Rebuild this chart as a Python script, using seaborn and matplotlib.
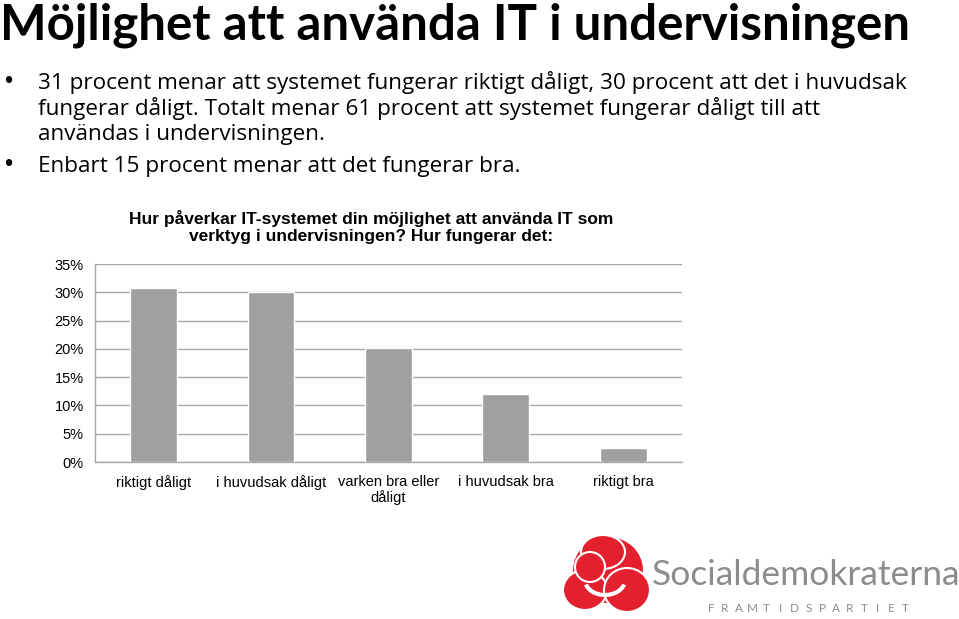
import matplotlib.pyplot as plt
import seaborn as sns
import pandas as pd
from matplotlib.patches import Ellipse, Arc

# data
categories = ['riktigt dåligt', 'i huvudsak dåligt', 'varken bra eller\ndåligt',
              'i huvudsak bra', 'riktigt bra']
shares = [30.7, 30.0, 20.2, 12.1, 2.4]
yticks = [0, 5, 10, 15, 20, 25, 30, 35]

title = 'Möjlighet att använda IT i undervisningen'
bullet_lines = [
    '31 procent menar att systemet fungerar riktigt dåligt, 30 procent att det i huvudsak',
    'fungerar dåligt. Totalt menar 61 procent att systemet fungerar dåligt till att',
    'användas i undervisningen.',
    'Enbart 15 procent menar att det fungerar bra.',
]
chart_title = 'Hur påverkar IT-systemet din möjlighet att använda IT som\nverktyg i undervisningen? Hur fungerar det:'

sns.set_style('white')
plt.rcParams['font.family'] = ['Liberation Sans', 'DejaVu Sans']
plt.rcParams['text.color'] = 'black'
plt.rcParams['xtick.color'] = 'black'
plt.rcParams['ytick.color'] = 'black'

df = pd.DataFrame({'Svar': categories, 'Andel': shares})

W, H = 959, 619
fig = plt.figure(figsize=(9.59, 6.19), dpi=100)
ax = fig.add_axes([0.099, 0.2536, 0.612, 0.3199])

sns.barplot(data=df, x='Svar', y='Andel', color='#A0A0A0', width=0.4,
            saturation=1, ax=ax, zorder=3)
ax.set_ylim(0, 35)
ax.set_xlim(-0.5, 4.5)
ax.set_yticks(yticks)
ax.set_yticklabels([f'{t}%' for t in yticks], fontsize=10.5)
ax.set_xticks(range(len(categories)))
ax.set_xticklabels(categories, fontsize=10.5, linespacing=1.1)
ax.set_xlabel('')
ax.set_ylabel('')
ax.yaxis.grid(True, color='#A6A6A6', linewidth=1)
ax.tick_params(axis='y', length=0, pad=8)
ax.tick_params(axis='x', length=0, pad=9)
for side in ['top', 'right']:
    ax.spines[side].set_visible(False)
for side in ['left', 'bottom']:
    ax.spines[side].set_color('#A6A6A6')
    ax.spines[side].set_linewidth(1)

fig.text(371.5 / W, 1 - 227 / H, chart_title, ha='center', va='center',
         fontsize=12.5, fontweight='bold', linespacing=1.12)

# slide text
fig.text(0.0, 1 - 39 / H, title, ha='left', va='baseline', fontsize=35.5,
         fontweight='bold', family=['Lato', 'Liberation Sans'])
baselines = [89, 115, 140, 172]
for line, yb in zip(bullet_lines, baselines):
    fig.text(38 / W, 1 - yb / H, line, fontsize=16.2, va='baseline',
             family=['Open Sans', 'Liberation Sans'])
for yb in [baselines[0], baselines[3]]:
    fig.text(4 / W, 1 - (yb - 1) / H, '•', fontsize=17, va='baseline')

# logo
red = '#E5202E'
for cx, cy, w, h in [(608, 570, 72, 68), (585, 590, 44, 40), (627, 590, 46, 44),
                     (603, 552, 44, 34), (590, 567, 30, 30)]:
    fig.patches.append(Ellipse((cx / W, 1 - cy / H), w / W, h / H,
                               transform=fig.transFigure, facecolor=red,
                               edgecolor='white', linewidth=1.5))
fig.patches.append(Arc((605 / W, 1 - 580 / H), 40 / W, 30 / H, theta1=200,
                       theta2=340, transform=fig.transFigure, color='white',
                       linewidth=3))
fig.text(652 / W, 1 - 575 / H, 'Socialdemokraterna', fontsize=25.5,
         color='#8C8C8C', va='center', family=['Lato', 'DejaVu Sans'])
for i, ch in enumerate('FRAMTIDSPARTIET'):
    fig.text((711 + i * 13.9) / W, 1 - 608 / H, ch, fontsize=8.5, ha='center',
             color='#8C8C8C', va='center', family=['Lato', 'DejaVu Sans'])

fig.savefig('out.png', dpi=100)
